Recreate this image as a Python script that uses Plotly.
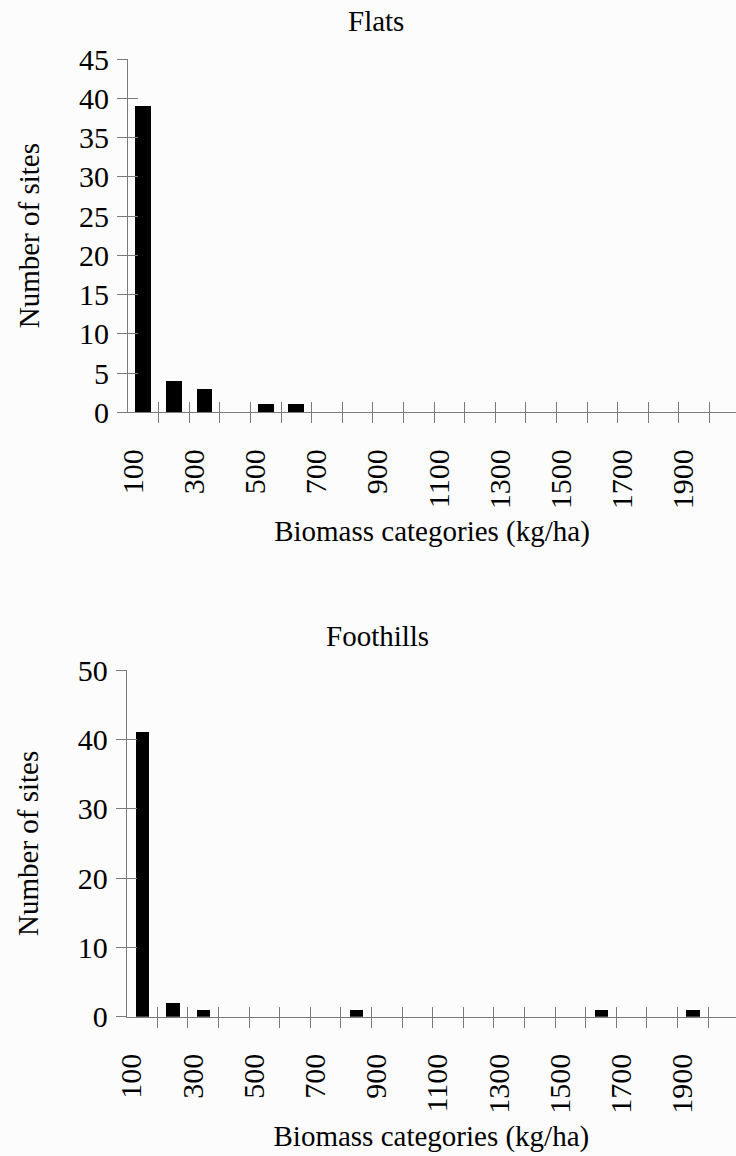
import plotly.graph_objects as go

# ---- data ----
categories = [100, 200, 300, 400, 500, 600, 700, 800, 900, 1000,
              1100, 1200, 1300, 1400, 1500, 1600, 1700, 1800, 1900, 2000]
flats = [39, 4, 3, 0, 1, 1, 0, 0, 0, 0, 0, 0, 0, 0, 0, 0, 0, 0, 0, 0]
foothills = [41, 2, 1, 0, 0, 0, 0, 1, 0, 0, 0, 0, 0, 0, 0, 1, 0, 0, 1, 0]
label_vals = [100, 300, 500, 700, 900, 1100, 1300, 1500, 1700, 1900]
label_text = [str(v) for v in label_vals]
boundaries = [150 + 100 * i for i in range(20)]
flats_yticks = [0, 5, 10, 15, 20, 25, 30, 35, 40, 45]
foothills_yticks = [0, 10, 20, 30, 40, 50]

W, H = 736, 1156
FONT = "Liberation Serif"
GRAY = "#7a7a7a"
TXT = dict(family=FONT, size=29, color="black")
TICK = dict(family=FONT, size=30, color="black")
LABEL_SHIFT = -34  # rotated labels sit slightly left of category centres


def px(v):
    return v / W


def py(v):
    return 1 - v / H


fig = go.Figure()
fig.add_trace(go.Bar(x=categories, y=flats, width=52, marker=dict(color="black", line=dict(width=0)),
                     xaxis="x", yaxis="y", showlegend=False))
fig.add_trace(go.Bar(x=categories, y=foothills, width=44, marker=dict(color="black", line=dict(width=0)),
                     xaxis="x2", yaxis="y2", showlegend=False))
# empty traces so the overlay axes (inner tick halves) are drawn
fig.add_trace(go.Scatter(x=[], y=[], xaxis="x3", yaxis="y3", showlegend=False, hoverinfo="skip"))
fig.add_trace(go.Scatter(x=[], y=[], xaxis="x4", yaxis="y4", showlegend=False, hoverinfo="skip"))


def xmain(domain, rng, anchor):
    return dict(domain=domain, range=rng, anchor=anchor, showgrid=False, zeroline=False,
                automargin=False,
                showline=True, linecolor=GRAY, linewidth=1,
                tickmode="array", tickvals=[v + LABEL_SHIFT for v in label_vals],
                ticktext=label_text, tickangle=-90,
                ticks="outside", ticklen=10, tickcolor="rgba(0,0,0,0)", ticklabelstandoff=14,
                tickfont=TICK,
                minor=dict(tickmode="array", tickvals=boundaries, ticks="outside", ticklen=10,
                           tickcolor=GRAY, tickwidth=1, showgrid=False),
                title=dict(text="Biomass categories (kg/ha)", font=TXT, standoff=12))


def xinner(domain, rng, anchor, over):
    return dict(domain=domain, range=rng, anchor=anchor, overlaying=over, showgrid=False,
                automargin=False,
                zeroline=False, showline=False, tickmode="array", tickvals=boundaries,
                ticks="inside", ticklen=10, tickcolor=GRAY, tickwidth=1, showticklabels=False)


def ymain(domain, rng, anchor, tv):
    return dict(domain=domain, range=rng, anchor=anchor, showgrid=False, zeroline=False,
                automargin=False,
                showline=True, linecolor=GRAY, linewidth=1,
                tickmode="array", tickvals=tv, ticks="outside", ticklen=10, tickcolor=GRAY,
                ticklabelstandoff=2, tickfont=TICK,
                title=dict(text="Number of sites", font=TXT, standoff=30))


def yinner(domain, rng, anchor, over, tv):
    return dict(domain=domain, range=rng, anchor=anchor, overlaying=over, showgrid=False,
                automargin=False,
                zeroline=False, showline=False, tickmode="array", tickvals=tv,
                ticks="inside", ticklen=10, tickcolor=GRAY, showticklabels=False)


top_xd = [px(128), 1]
top_yd = [py(412.3), py(59)]
bot_xd = [px(126.7), 1]
bot_yd = [py(1016.7), py(670)]
top_xr = [50, 50 + (W - 128) / 30.6 * 100]
bot_xr = [50, 50 + (W - 126.7) / 30.6 * 100]

fig.update_layout(
    template="none",
    width=W, height=H, autosize=False,
    margin=dict(l=0, r=0, t=0, b=0, pad=0),
    paper_bgcolor="#fcfcfc", plot_bgcolor="rgba(0,0,0,0)",
    bargap=0,
    xaxis=xmain(top_xd, top_xr, "y"),
    yaxis=ymain(top_yd, [0, 45], "x", flats_yticks),
    xaxis3=xinner(top_xd, top_xr, "y", "x"),
    yaxis3=yinner(top_yd, [0, 45], "x", "y", flats_yticks),
    xaxis2=xmain(bot_xd, bot_xr, "y2"),
    yaxis2=ymain(bot_yd, [0, 50], "x2", foothills_yticks),
    xaxis4=xinner(bot_xd, bot_xr, "y2", "x2"),
    yaxis4=yinner(bot_yd, [0, 50], "x2", "y2", foothills_yticks),
    annotations=[
        dict(text="Flats", x=px(376), y=py(21), xref="paper", yref="paper",
             xanchor="center", yanchor="middle", showarrow=False, font=TXT),
        dict(text="Foothills", x=px(377), y=py(636), xref="paper", yref="paper",
             xanchor="center", yanchor="middle", showarrow=False, font=TXT),
    ],
)

fig.write_html("out.html")
